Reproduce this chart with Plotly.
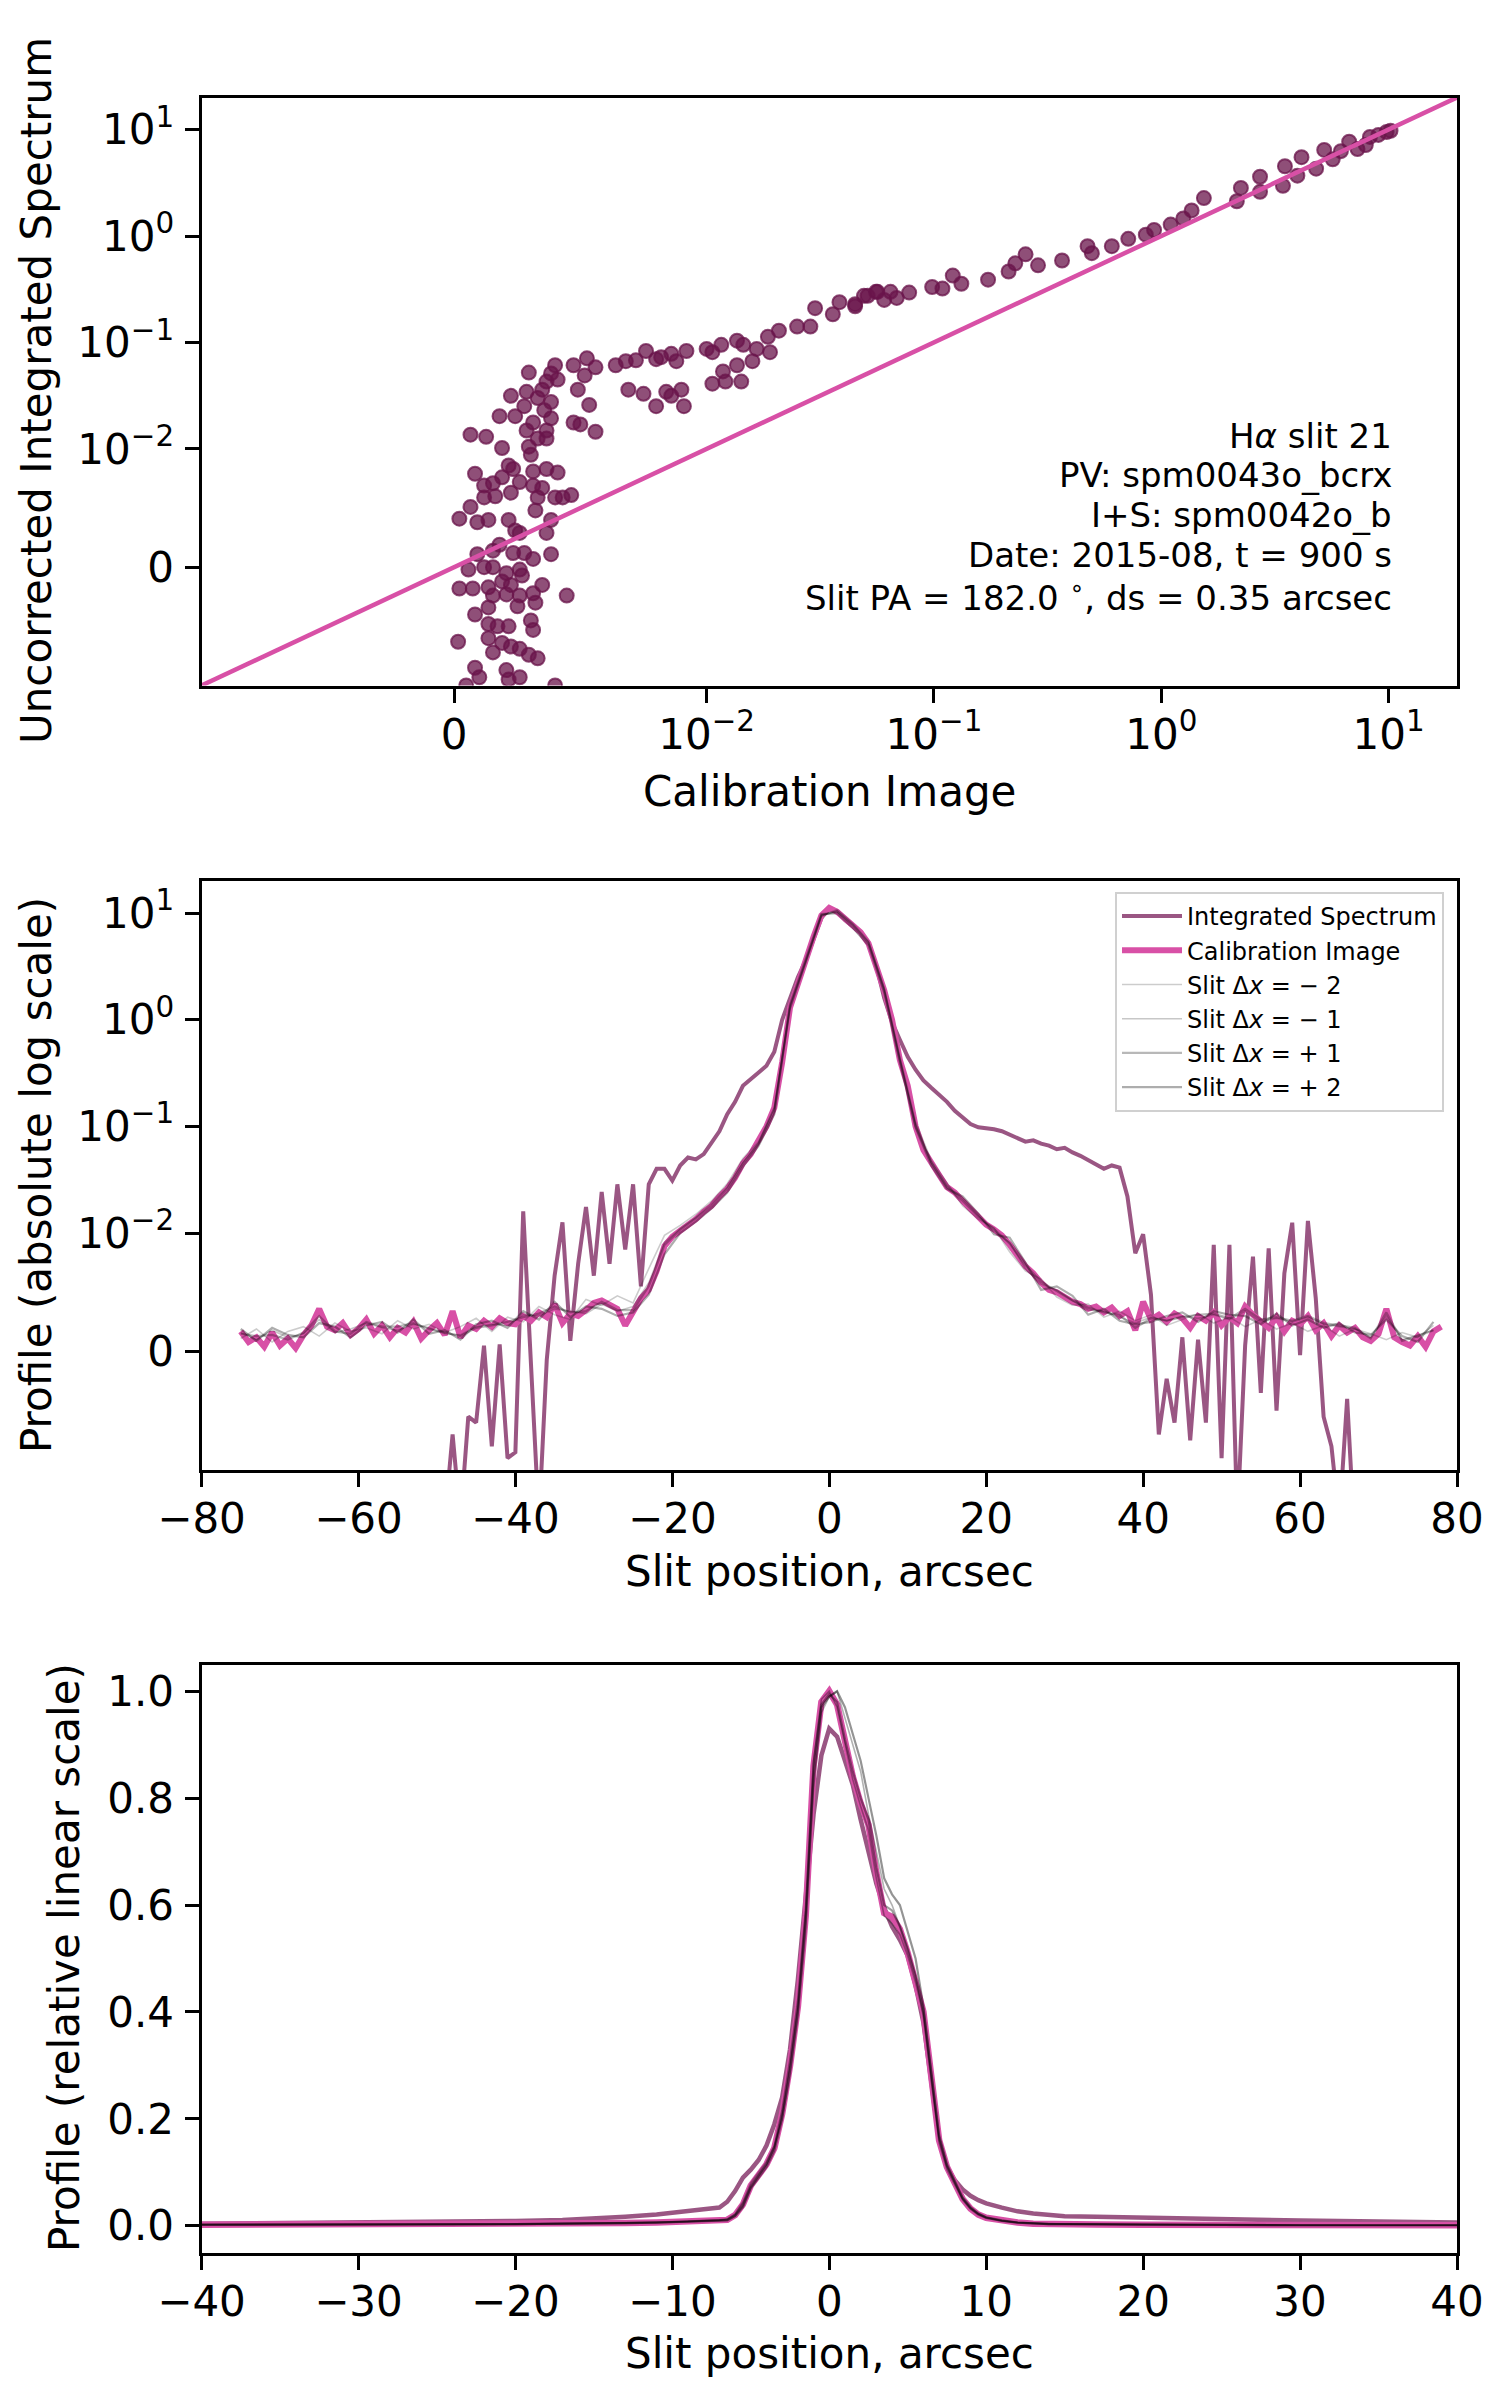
import math
import plotly.graph_objects as go
from plotly.subplots import make_subplots

## Symlog axis settings (linear between -0.01 and 0.01)
LINTHRESH = 0.01
LINSCALE = 1.0

## Panel 1: calibration image value vs integrated spectrum value
SCAT_CAL = [0.00296, 0.0040, 0.00384, 0.00366, 0.0041, 0.00349, 0.00287, 0.00331, 0.00384, 0.00357,
            0.00225, 0.00278, 0.00242, 0.0018, 0.00313, 0.00384, 0.00366, 0.00287, 0.00331, 0.00366,
            0.00065, 0.00127, 0.0019, 0.00296, 0.00304, 0.00473, 0.00526, 0.0056, 0.00517, 0.0049,
            0.00535, 0.00473, 0.0050, 0.0056, 0.00216, 0.00234, 0.00313, 0.00366, 0.0041, 0.00083,
            0.0019, 0.00154, 0.00119, 0.0026, 0.00313, 0.00349, 0.00225, 0.00163, 0.00119, 0.00331,
            0.0040, 0.0043, 0.00464, 0.00065, 0.00021, 0.00092, 0.00136, 0.00216, 0.00322, 0.00384,
            0.00242, 0.0026, 0.00366, 0.0018, 0.00154, 0.00092, 0.00234, 0.00278, 0.00384, 0.00313,
            0.00057, 0.00119, 0.00154, 0.0026, 0.00207, 0.00269, 0.00021, 0.00074, 0.00136, 0.0019,
            0.00225, 0.00349, 0.00154, 0.00207, 0.0026, 0.00313, 0.00446, 0.00136, 0.00251, 0.00322,
            0.00083, 0.00304, 0.00136, 0.00172, 0.00216, 0.00313, 0.00016, 0.00136, 0.0019, 0.00225,
            0.00154, 0.0026, 0.00296, 0.00331, 0.00083, 0.00207, 0.0010, 0.0026, 0.00216, 0.0040,
            0.00048, 0.0064, 0.0068, 0.0072, 0.0076, 0.0080, 0.0082, 0.0086, 0.0088, 0.0092,
            0.0100, 0.0106, 0.0116, 0.0136, 0.0145, 0.0159, 0.0166, 0.0186, 0.0190, 0.0208,
            0.025, 0.0286, 0.030, 0.0359, 0.0384, 0.045, 0.0492, 0.0564, 0.0069, 0.0075,
            0.0080, 0.0084, 0.0086, 0.0090, 0.0091, 0.0106, 0.0118, 0.0121, 0.0136, 0.0142,
            0.045, 0.0511, 0.0556, 0.0604, 0.0644, 0.0686, 0.0778, 0.0982, 0.109, 0.121,
            0.132, 0.173, 0.213, 0.228, 0.253, 0.287, 0.366, 0.474, 0.495, 0.606,
            0.716, 0.855, 0.93, 1.10, 1.25, 1.36, 1.54, 2.15, 2.24, 2.72,
            2.72, 3.43, 3.50, 3.97, 4.14, 4.80, 5.21, 5.68, 6.17, 6.71,
            7.30, 7.94, 8.28, 9.02, 9.80, 10.2]
SCAT_INT = [0.0521, 0.0611, 0.0512, 0.0429, 0.0448, 0.036, 0.0344, 0.0301, 0.0276, 0.0231,
            0.0315, 0.0252, 0.0203, 0.0203, 0.0177, 0.0194, 0.0149, 0.0149, 0.0125, 0.0125,
            0.0136, 0.0130, 0.0102, 0.0105, 0.0095, 0.0611, 0.071, 0.0584, 0.049, 0.036,
            0.0259, 0.0177, 0.017, 0.0145, 0.0086, 0.0083, 0.0081, 0.0083, 0.0080, 0.0079,
            0.0076, 0.0071, 0.0069, 0.0072, 0.0069, 0.0067, 0.0063, 0.0060, 0.0059, 0.0059,
            0.0059, 0.0059, 0.0061, 0.0051, 0.0041, 0.0038, 0.0040, 0.0040, 0.0048, 0.0040,
            0.0031, 0.0029, 0.0029, 0.0019, 0.0014, 0.0011, 0.0012, 0.0012, 0.0011, 0.0007,
            -0.0002, 0.0, 0.0, -0.0002, -0.0005, -0.0007, -0.0018, -0.0018, -0.0017, -0.0012,
            -0.0015, -0.0015, -0.0024, -0.0023, -0.0024, -0.0022, -0.0024, -0.0034, -0.0033, -0.0030,
            -0.0040, -0.0045, -0.0048, -0.0050, -0.0050, -0.0053, -0.0063, -0.0060, -0.0064, -0.0067,
            -0.0072, -0.0069, -0.0074, -0.0077, -0.0085, -0.0087, -0.0093, -0.0093, -0.0095, -0.0100,
            -0.0100, 0.0611, 0.0667, 0.068, 0.0832, 0.0697, 0.0728, 0.0782, 0.0667, 0.0832,
            0.087, 0.081, 0.095, 0.104, 0.095, 0.0667, 0.087, 0.113, 0.081, 0.129,
            0.141, 0.141, 0.21, 0.184, 0.239, 0.229, 0.274, 0.299, 0.036, 0.0329,
            0.0252, 0.0344, 0.0315, 0.036, 0.0252, 0.041, 0.0535, 0.0429, 0.0611, 0.0429,
            0.219, 0.274, 0.299, 0.251, 0.299, 0.262, 0.294, 0.332, 0.321, 0.425,
            0.356, 0.389, 0.464, 0.554, 0.673, 0.53, 0.589, 0.802, 0.69, 0.802,
            0.94, 1.03, 1.14, 1.28, 1.46, 1.74, 2.27, 2.12, 2.83, 3.6,
            2.6, 2.96, 4.52, 3.69, 5.5, 4.29, 6.44, 5.25, 6.27, 7.68,
            6.55, 7.16, 8.53, 8.91, 9.48, 9.75]
ONE_TO_ONE = [-0.01, 20]

## Panel 2: slit profiles, 1 arcsec sampling from -75 to 78
PROF_X = list(range(-75, 79))
PROF_INT = [-0.04, -0.05, -0.03, -0.06, -0.04, -0.05, -0.03, -0.04, -0.06, -0.05,
            -0.04, -0.03, -0.05, -0.04, -0.06, -0.03, -0.04, -0.05, -0.04, -0.03,
            -0.05, -0.04, -0.06, -0.03, -0.04, -0.05, -0.03, -0.007, -0.03, -0.0055,
            -0.006, 0.0005, -0.008, 0.0006, -0.009, -0.0085, 0.016, -0.002, -0.03, -0.0007,
            0.0064, 0.0126, 0.0009, 0.0074, 0.0175, 0.0064, 0.0243, 0.0074, 0.0286, 0.0086,
            0.0286, 0.0055, 0.0286, 0.040, 0.040, 0.031, 0.043, 0.051, 0.049, 0.055,
            0.071, 0.09, 0.13, 0.17, 0.24, 0.28, 0.32, 0.37, 0.50, 1.0,
            1.6, 2.5, 3.6, 5.8, 9.0, 11.0, 10.2, 8.6, 7.4, 6.5,
            5.3, 3.2, 1.6, 0.95, 0.65, 0.45, 0.34, 0.27, 0.23, 0.20,
            0.17, 0.14, 0.12, 0.105, 0.098, 0.096, 0.094, 0.090, 0.084, 0.078,
            0.072, 0.074, 0.069, 0.066, 0.061, 0.063, 0.057, 0.053, 0.048, 0.044,
            0.040, 0.043, 0.041, 0.022, 0.0083, 0.0099, 0.0048, -0.007, -0.0023, -0.006,
            0.0012, -0.0075, 0.001, -0.006, 0.009, -0.009, 0.009, -0.03, 0.0005, 0.0080,
            -0.0035, 0.0087, -0.005, 0.0066, 0.0125, -0.0003, 0.013, 0.0045, -0.0055, -0.008,
            -0.03, -0.004, -0.05, -0.04, -0.06, -0.05, -0.04, -0.03, -0.05, -0.04,
            -0.06, -0.05, -0.04, -0.05]
PROF_CAL = [0.0017, 0.0008, 0.0012, 0.0004, 0.0016, 0.0005, 0.0011, 0.0003, 0.0014, 0.0022,
            0.0036, 0.0021, 0.0018, 0.0024, 0.0014, 0.0019, 0.0027, 0.0015, 0.0022, 0.0012,
            0.0020, 0.0016, 0.0025, 0.0011, 0.0018, 0.0024, 0.0014, 0.0034, 0.0012, 0.0022,
            0.0019, 0.0026, 0.0021, 0.0028, 0.0024, 0.0023, 0.0030, 0.0026, 0.0033, 0.0029,
            0.0040, 0.0024, 0.0032, 0.0030, 0.0035, 0.0041, 0.0043, 0.0040, 0.0036, 0.0022,
            0.0033, 0.0045, 0.0052, 0.0068, 0.0089, 0.0097, 0.0105, 0.0118, 0.0135, 0.0158,
            0.018, 0.022, 0.026, 0.033, 0.045, 0.055, 0.075, 0.10, 0.15, 0.40,
            1.3, 2.2, 3.5, 6.0, 9.5, 11.2, 10.3, 8.8, 7.6, 6.6,
            5.2, 3.1, 1.9, 1.0, 0.42, 0.24, 0.10, 0.060, 0.045, 0.035,
            0.027, 0.024, 0.020, 0.017, 0.014, 0.012, 0.0108, 0.0098, 0.0090, 0.0080,
            0.0072, 0.0066, 0.0058, 0.0052, 0.0050, 0.0046, 0.0042, 0.0040, 0.0036, 0.0038,
            0.0033, 0.0037, 0.0030, 0.0034, 0.0018, 0.0042, 0.0027, 0.0031, 0.0025, 0.0032,
            0.0028, 0.0020, 0.0030, 0.0026, 0.0033, 0.0022, 0.0029, 0.0024, 0.0038, 0.0031,
            0.0026, 0.0020, 0.0029, 0.0017, 0.0026, 0.0023, 0.0030, 0.0018, 0.0024, 0.0013,
            0.0022, 0.0016, 0.0020, 0.0012, 0.0009, 0.0015, 0.0036, 0.0012, 0.0008, 0.0005,
            0.0013, 0.0004, 0.0017, 0.0021]

## Neighbouring slits, 2 arcsec sampling
SLIT_X = list(range(-75, 78, 2))
SLIT_M2 = [0.0011, 0.0019, 0.0008, 0.0017, 0.0021, 0.0013, 0.0024, 0.0017, 0.0020, 0.0015,
           0.0026, 0.0019, 0.0023, 0.0016, 0.0021, 0.0028, 0.0017, 0.0029, 0.0025, 0.0038,
           0.0031, 0.0027, 0.0044, 0.0039, 0.0047, 0.0041, 0.0070, 0.0098, 0.0118, 0.0150,
           0.020, 0.029, 0.050, 0.072, 0.15, 1.25, 3.4, 9.3, 10.8, 8.0,
           5.5, 2.0, 0.45, 0.11, 0.048, 0.029, 0.018, 0.0135, 0.0112, 0.0084,
           0.0068, 0.0061, 0.0046, 0.0039, 0.0040, 0.0029, 0.0034, 0.0026, 0.0031, 0.0022,
           0.0027, 0.0032, 0.0024, 0.0029, 0.0021, 0.0027, 0.0019, 0.0024, 0.0017, 0.0022,
           0.0013, 0.0019, 0.0015, 0.0010, 0.0016, 0.0012, 0.0022]
SLIT_M1 = [0.0016, 0.0010, 0.0018, 0.0012, 0.0015, 0.0027, 0.0016, 0.0019, 0.0024, 0.0020,
           0.0018, 0.0023, 0.0020, 0.0015, 0.0014, 0.0021, 0.0023, 0.0022, 0.0031, 0.0030,
           0.0036, 0.0034, 0.0032, 0.0040, 0.0034, 0.0038, 0.0058, 0.0092, 0.0110, 0.0140,
           0.019, 0.027, 0.046, 0.070, 0.15, 1.35, 3.5, 9.6, 10.4, 7.7,
           5.3, 1.95, 0.43, 0.105, 0.046, 0.028, 0.021, 0.0145, 0.0104, 0.0092,
           0.0070, 0.0057, 0.0052, 0.0043, 0.0035, 0.0034, 0.0029, 0.0024, 0.0029, 0.0026,
           0.0030, 0.0028, 0.0031, 0.0027, 0.0034, 0.0025, 0.0028, 0.0025, 0.0029, 0.0023,
           0.0021, 0.0019, 0.0012, 0.0030, 0.0010, 0.0014, 0.0018]
SLIT_P1 = [0.0015, 0.0013, 0.0014, 0.0010, 0.0016, 0.0030, 0.0017, 0.0015, 0.0025, 0.0021,
           0.0021, 0.0024, 0.0019, 0.0016, 0.0013, 0.0020, 0.0022, 0.0025, 0.0029, 0.0032,
           0.0038, 0.0033, 0.0034, 0.0042, 0.0035, 0.0035, 0.0055, 0.0090, 0.0107, 0.0137,
           0.018, 0.026, 0.045, 0.069, 0.14, 1.3, 3.5, 9.5, 10.4, 7.8,
           5.3, 1.9, 0.42, 0.10, 0.046, 0.027, 0.020, 0.0142, 0.0109, 0.0091,
           0.0073, 0.0059, 0.0051, 0.0043, 0.0037, 0.0033, 0.0031, 0.0020, 0.0028, 0.0026,
           0.0029, 0.0031, 0.0032, 0.0028, 0.0036, 0.0027, 0.0029, 0.0026, 0.0030, 0.0024,
           0.0022, 0.0020, 0.0011, 0.0033, 0.0009, 0.0013, 0.0018]
SLIT_P2 = [0.0019, 0.0009, 0.0020, 0.0014, 0.0012, 0.0024, 0.0021, 0.0012, 0.0022, 0.0025,
           0.0016, 0.0027, 0.0015, 0.0018, 0.0010, 0.0023, 0.0026, 0.0020, 0.0034, 0.0027,
           0.0042, 0.0029, 0.0038, 0.0036, 0.0030, 0.0033, 0.0048, 0.0082, 0.0100, 0.0128,
           0.017, 0.024, 0.042, 0.066, 0.13, 1.4, 3.7, 9.8, 10.0, 7.3,
           5.0, 1.8, 0.40, 0.098, 0.043, 0.026, 0.022, 0.0152, 0.0099, 0.0096,
           0.0075, 0.0052, 0.0055, 0.0047, 0.0031, 0.0036, 0.0026, 0.0023, 0.0025, 0.0030,
           0.0033, 0.0025, 0.0034, 0.0031, 0.0030, 0.0023, 0.0032, 0.0022, 0.0027, 0.0020,
           0.0024, 0.0016, 0.0014, 0.0027, 0.0013, 0.0008, 0.0025]

## Panel 3: normalised profiles
REL_X = [-40, -35, -30, -25, -20, -17, -15, -13, -11, -10, -9, -8, -7,
         -6.5, -6, -5.5, -5, -4.5, -4, -3.5, -3, -2.5, -2, -1.5, -1, -0.5, 0, 0.5, 1, 1.5, 2, 2.5, 3,
         3.5, 4, 4.5, 5, 5.5, 6, 6.5, 7, 7.5, 8, 8.5, 9, 9.5, 10,
         11, 12, 13, 14, 15, 17, 20, 25, 30, 35, 40]
REL_INT = [0.004, 0.005, 0.006, 0.007, 0.009, 0.011, 0.013, 0.017, 0.021, 0.025, 0.028, 0.031, 0.034,
           0.045, 0.065, 0.09, 0.105, 0.123, 0.15, 0.19, 0.24, 0.33, 0.46, 0.62, 0.77, 0.88, 0.93, 0.915, 0.87,
           0.825, 0.76, 0.70, 0.64, 0.595, 0.56, 0.535, 0.505, 0.45, 0.38, 0.27, 0.16, 0.11, 0.085, 0.068,
           0.056, 0.048, 0.042,
           0.034, 0.027, 0.023, 0.020, 0.018, 0.017, 0.015, 0.013, 0.010, 0.008, 0.006]
REL_CAL = [0.002, 0.002, 0.002, 0.003, 0.003, 0.004, 0.004, 0.005, 0.006, 0.007, 0.008, 0.009, 0.010,
           0.011, 0.020, 0.040, 0.075, 0.095, 0.115, 0.145, 0.21, 0.30, 0.41, 0.58, 0.86, 0.98, 1.0, 0.975, 0.90,
           0.84, 0.79, 0.75, 0.66, 0.585, 0.578, 0.555, 0.51, 0.46, 0.40, 0.28, 0.16, 0.11, 0.08, 0.05,
           0.032, 0.021, 0.015,
           0.009, 0.006, 0.004, 0.003, 0.003, 0.0025, 0.002, 0.0015, 0.001, 0.001, 0.001]
REL_M2 = [0.002, 0.002, 0.003, 0.003, 0.003, 0.004, 0.005, 0.005, 0.006, 0.007, 0.008, 0.010, 0.011,
          0.013, 0.022, 0.045, 0.08, 0.10, 0.12, 0.15, 0.20, 0.28, 0.39, 0.55, 0.82, 0.96, 0.99, 1.0, 0.95,
          0.90, 0.85, 0.77, 0.70, 0.63, 0.60, 0.56, 0.52, 0.47, 0.39, 0.27, 0.16, 0.11, 0.08, 0.05,
          0.033, 0.022, 0.016,
          0.010, 0.006, 0.005, 0.004, 0.003, 0.003, 0.002, 0.002, 0.001, 0.001, 0.001]
REL_M1 = [0.002, 0.002, 0.002, 0.003, 0.003, 0.004, 0.004, 0.005, 0.006, 0.007, 0.008, 0.009, 0.010,
          0.012, 0.021, 0.042, 0.076, 0.096, 0.114, 0.146, 0.21, 0.30, 0.41, 0.59, 0.87, 0.985, 1.0, 0.97, 0.90,
          0.835, 0.785, 0.74, 0.65, 0.58, 0.565, 0.545, 0.505, 0.455, 0.395, 0.275, 0.155, 0.105, 0.077, 0.048,
          0.031, 0.020, 0.014,
          0.009, 0.006, 0.004, 0.003, 0.003, 0.0025, 0.002, 0.0015, 0.001, 0.001, 0.001]
REL_P1 = [0.002, 0.002, 0.002, 0.003, 0.003, 0.004, 0.004, 0.005, 0.006, 0.007, 0.008, 0.009, 0.010,
          0.011, 0.019, 0.038, 0.072, 0.094, 0.116, 0.148, 0.215, 0.31, 0.42, 0.59, 0.865, 0.975, 0.995, 0.98, 0.91,
          0.85, 0.80, 0.76, 0.67, 0.60, 0.59, 0.56, 0.515, 0.465, 0.405, 0.285, 0.165, 0.112, 0.082, 0.051,
          0.033, 0.022, 0.015,
          0.009, 0.006, 0.004, 0.003, 0.003, 0.0025, 0.002, 0.0015, 0.001, 0.001, 0.001]
REL_P2 = [0.002, 0.002, 0.002, 0.003, 0.003, 0.004, 0.004, 0.005, 0.006, 0.007, 0.008, 0.009, 0.010,
          0.010, 0.018, 0.035, 0.07, 0.09, 0.11, 0.14, 0.20, 0.29, 0.40, 0.57, 0.84, 0.97, 0.99, 1.0, 0.97,
          0.92, 0.87, 0.80, 0.73, 0.65, 0.62, 0.60, 0.55, 0.50, 0.41, 0.29, 0.17, 0.115, 0.085, 0.053,
          0.035, 0.023, 0.016,
          0.010, 0.006, 0.004, 0.003, 0.003, 0.0025, 0.002, 0.0015, 0.001, 0.001, 0.001]

## Tick labels
SYMLOG_TICKS = [0, 0.01, 0.1, 1, 10]
SYMLOG_TEXT = ["0", "10<sup>−2</sup>", "10<sup>−1</sup>", "10<sup>0</sup>", "10<sup>1</sup>"]
POS_TICKS = [-80, -60, -40, -20, 0, 20, 40, 60, 80]
REL_XTICKS = [-40, -30, -20, -10, 0, 10, 20, 30, 40]
REL_YTICKS = [0.0, 0.2, 0.4, 0.6, 0.8, 1.0]

INFO_LINES = ["H<i>α</i> slit 21", "PV: spm0043o_bcrx", "I+S: spm0042o_b",
              "Date: 2015-08, t = 900 s", "Slit PA = 182.0 <sup>∘</sup>, ds = 0.35 arcsec"]

PURPLE = "rgba(120, 30, 90, 0.75)"
DOT = "rgba(105, 20, 75, 0.75)"
PINK = "rgb(216, 80, 166)"
FONT = "DejaVu Sans"


def symlog(values):
    """Matplotlib-style symlog transform (base 10)."""
    adj = LINSCALE / (1 - 1 / 10)
    out = []
    for v in values:
        a = abs(v)
        if a <= LINTHRESH:
            out.append(v / LINTHRESH * adj)
        else:
            out.append(math.copysign(adj + math.log10(a / LINTHRESH), v))
    return out


def fmt_ticks(vals):
    return [("−" + str(abs(v))) if v < 0 else str(v) for v in vals]


W, H = 1500, 2400
fig = make_subplots(rows=3, cols=1)

## Panel 1
fig.add_trace(go.Scatter(x=symlog(SCAT_CAL), y=symlog(SCAT_INT), mode="markers",
                         marker=dict(size=14, color=DOT, line=dict(color=DOT, width=2)),
                         showlegend=False), row=1, col=1)
fig.add_trace(go.Scatter(x=symlog(ONE_TO_ONE), y=symlog(ONE_TO_ONE), mode="lines",
                         line=dict(color=PINK, width=4.5), showlegend=False), row=1, col=1)

## Panel 2
fig.add_trace(go.Scatter(x=PROF_X, y=symlog(PROF_INT), mode="lines", name="Integrated Spectrum",
                         line=dict(color=PURPLE, width=4)), row=2, col=1)
fig.add_trace(go.Scatter(x=PROF_X, y=symlog(PROF_CAL), mode="lines", name="Calibration Image",
                         line=dict(color=PINK, width=6)), row=2, col=1)
slit_styles = [("Slit Δ<i>x</i> = − 2", SLIT_M2, REL_M2, 0.2, 1.6),
               ("Slit Δ<i>x</i> = − 1", SLIT_M1, REL_M1, 0.22, 1.6),
               ("Slit Δ<i>x</i> = + 1", SLIT_P1, REL_P1, 0.28, 2.2),
               ("Slit Δ<i>x</i> = + 2", SLIT_P2, REL_P2, 0.32, 2.2)]
for name, vals, rel, alpha, width in slit_styles:
    fig.add_trace(go.Scatter(x=SLIT_X, y=symlog(vals), mode="lines", name=name,
                             line=dict(color="rgba(0,0,0,%s)" % alpha, width=width)), row=2, col=1)

## Panel 3
fig.add_trace(go.Scatter(x=REL_X, y=REL_INT, mode="lines", showlegend=False,
                         line=dict(color=PURPLE, width=4.5)), row=3, col=1)
fig.add_trace(go.Scatter(x=REL_X, y=REL_CAL, mode="lines", showlegend=False,
                         line=dict(color=PINK, width=6.5)), row=3, col=1)
for name, vals, rel, alpha, width in slit_styles:
    fig.add_trace(go.Scatter(x=REL_X, y=rel, mode="lines", showlegend=False,
                             line=dict(color="rgba(0,0,0,%s)" % (alpha + 0.1), width=width)), row=3, col=1)

## Axes
fig.update_xaxes(showline=True, linecolor="black", linewidth=3, mirror=True,
                 ticks="outside", ticklen=14, tickwidth=3, tickcolor="black",
                 showgrid=False, zeroline=False, automargin=False, ticklabelstandoff=-4,
                 tickfont=dict(size=42, color="black", family=FONT))
fig.update_yaxes(showline=True, linecolor="black", linewidth=3, mirror=True,
                 ticks="outside", ticklen=14, tickwidth=3, tickcolor="black",
                 showgrid=False, zeroline=False, automargin=False, ticklabelstandoff=2,
                 tickfont=dict(size=42, color="black", family=FONT))

sl_range = symlog([-0.01, 20])
x0, x1 = 201.5 / W, 1457 / W
fig.update_layout(
    xaxis=dict(domain=[x0, x1], range=sl_range, tickvals=symlog(SYMLOG_TICKS), ticktext=SYMLOG_TEXT),
    yaxis=dict(domain=[1 - 685.5 / H, 1 - 97.5 / H], range=sl_range,
               tickvals=symlog(SYMLOG_TICKS), ticktext=SYMLOG_TEXT),
    xaxis2=dict(domain=[x0, x1], range=[-80, 80], tickvals=POS_TICKS, ticktext=fmt_ticks(POS_TICKS)),
    yaxis2=dict(domain=[1 - 1470 / H, 1 - 881 / H], range=sl_range,
                tickvals=symlog(SYMLOG_TICKS), ticktext=SYMLOG_TEXT),
    xaxis3=dict(domain=[x0, x1], range=[-40, 40], tickvals=REL_XTICKS, ticktext=fmt_ticks(REL_XTICKS)),
    yaxis3=dict(domain=[1 - 2252.5 / H, 1 - 1664.5 / H], range=[-0.05, 1.05],
                tickvals=REL_YTICKS, ticktext=["%.1f" % v for v in REL_YTICKS]),
)

## Axis titles and info text
titles = [("Calibration Image", 829, 791, 0), ("Slit position, arcsec", 829, 1571, 0),
          ("Slit position, arcsec", 829, 2353, 0),
          ("Uncorrected Integrated Spectrum", 37, 391, -90),
          ("Profile (absolute log scale)", 37, 1175, -90),
          ("Profile (relative linear scale)", 64, 1958, -90)]
for text, px, py, angle in titles:
    fig.add_annotation(text=text, x=px / W, y=1 - py / H, xref="paper", yref="paper",
                       xanchor="center", yanchor="middle", showarrow=False, textangle=angle,
                       font=dict(size=42, color="black", family=FONT))

line_y = [436, 475, 515, 555, 596]
for text, py in zip(INFO_LINES, line_y):
    fig.add_annotation(text=text, x=1394 / W, y=1 - py / H, xref="paper", yref="paper",
                       xanchor="right", yanchor="middle", showarrow=False,
                       font=dict(size=34, color="black", family=FONT))

fig.update_layout(width=W, height=H, margin=dict(l=0, r=0, t=0, b=0, autoexpand=False),
                  plot_bgcolor="white", paper_bgcolor="white",
                  font=dict(family=FONT, color="black"),
                  legend=dict(x=1444 / W, xanchor="right", y=1 - 892 / H, yanchor="top",
                              bgcolor="white", bordercolor="#d0d0d0", borderwidth=2,
                              font=dict(size=24, color="black", family=FONT),
                              itemwidth=60, tracegroupgap=0))

## Drop the default page margin so the figure sits at the window corner
fig.write_html("out.html", config={"displayModeBar": False},
               post_script="document.body.style.margin='0';")
